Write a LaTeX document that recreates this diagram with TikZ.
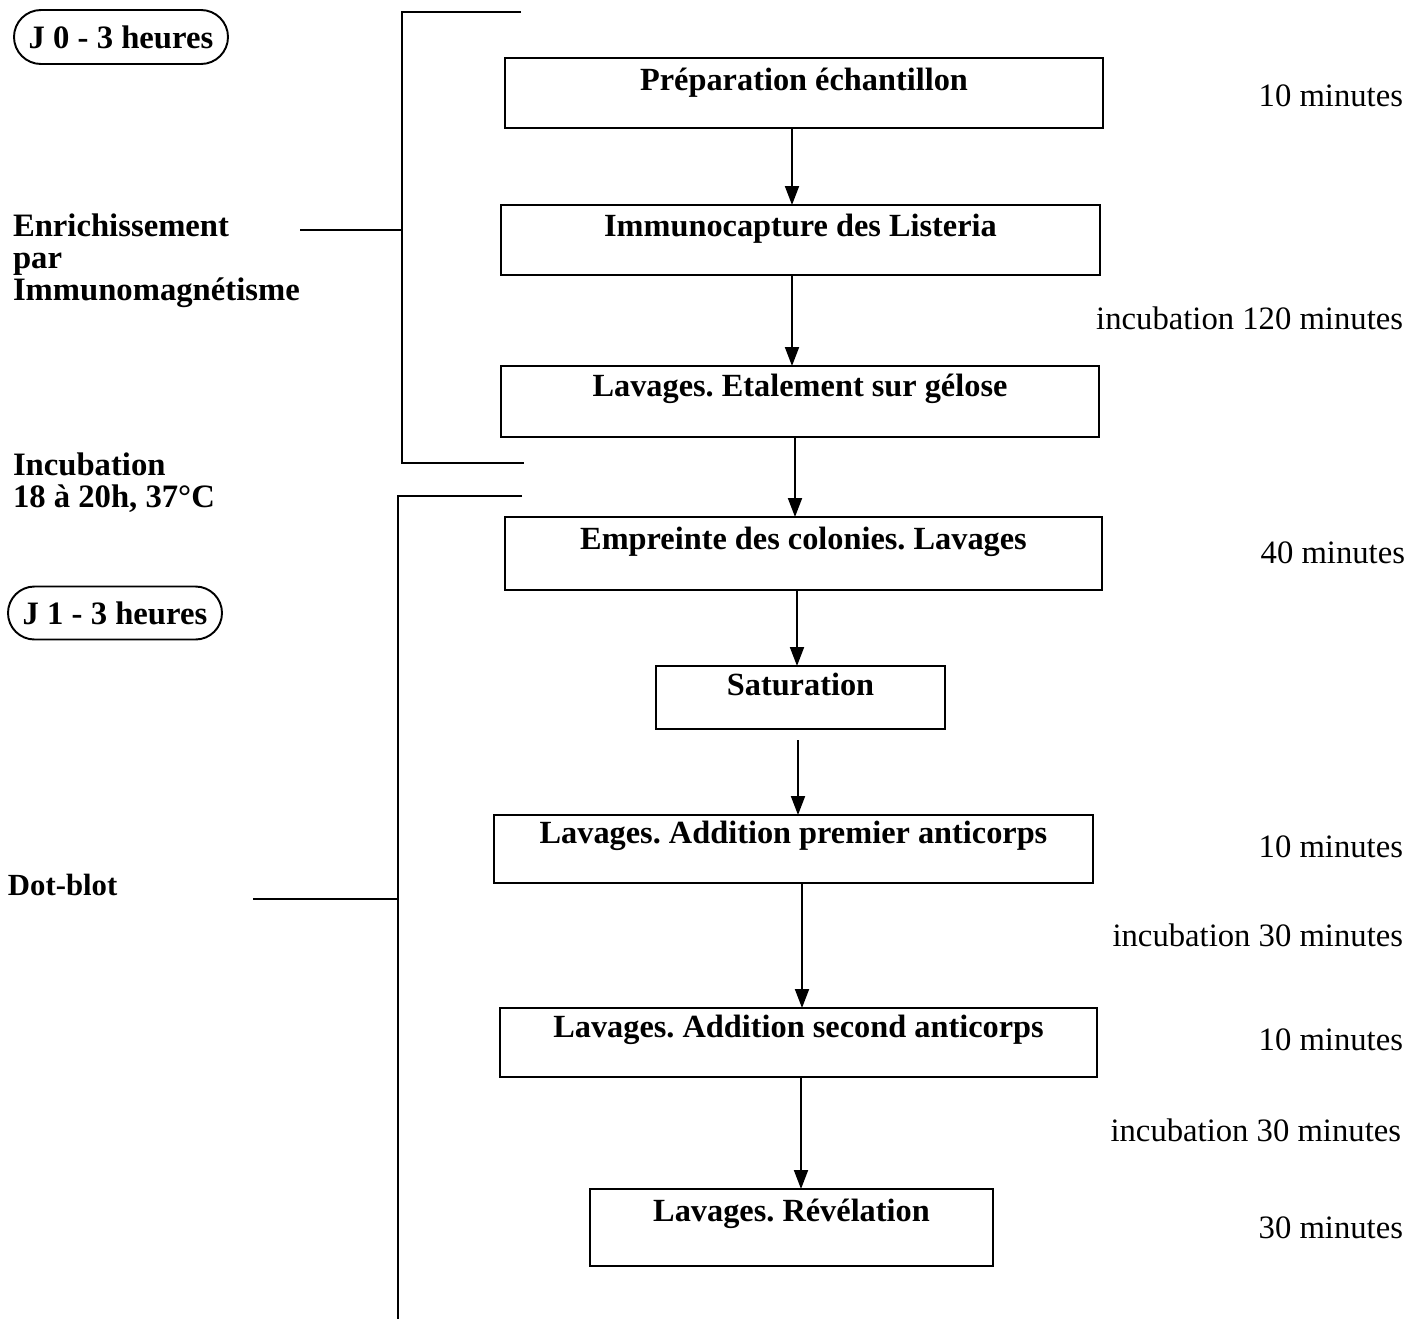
\documentclass[tikz,border=0pt]{standalone}
\usepackage{fontspec}
\setmainfont{Liberation Serif}
\usetikzlibrary{arrows.meta,shapes.misc}
\begin{document}
\frenchspacing
\begin{tikzpicture}[x=0.02cm,y=-0.02cm,
  every node/.style={inner sep=0pt, outer sep=0pt},
  ln/.style={line width=1.1pt},
  box/.style={draw, line width=1.1pt, rectangle},
  btxt/.style={font=\fontsize{18.4}{20}\selectfont\bfseries, anchor=base},
  ltxt/.style={font=\fontsize{18.6}{18.2}\selectfont\bfseries, anchor=base west, align=left},
  rtxt/.style={font=\fontsize{18.6}{20}\selectfont, anchor=base east},
  arr/.style={line width=1.1pt, -{Triangle[width=0.28cm,length=0.38cm]}},
  day/.style={draw, line width=1.1pt, rounded rectangle, font=\fontsize{18.6}{20}\selectfont\bfseries}
]
\useasboundingbox (0,0) rectangle (1423,1319);

% day labels
\node[day, minimum width=214*0.02cm, minimum height=54*0.02cm] (j0) at (121,37) {J 0 - 3 heures};
\node[day, minimum width=214*0.02cm, minimum height=53*0.02cm] (j1) at (115,613) {J 1 - 3 heures};

% left labels
\node[ltxt] (enr) at (13,300) {Enrichissement\\par\\Immunomagnétisme};
\node[ltxt] (inc) at (13,507) {Incubation\\18 à 20h, 37°C};
\node[ltxt, font=\fontsize{17.5}{18}\selectfont\bfseries] (dot) at (8,895) {Dot-blot};

% brackets
\coordinate (b1t) at (521,12);
\coordinate (b1tl) at (402,12);
\coordinate (b1bl) at (402,463);
\coordinate (b1b) at (524,463);
\coordinate (b1m) at (402,230);
\coordinate (enrt) at (300,230);
\draw[ln] (b1t) -- (b1tl) -- (b1bl) -- (b1b);
\draw[ln] (enrt) -- (b1m);

\coordinate (b2t) at (522,496);
\coordinate (b2tl) at (398,496);
\coordinate (b2bl) at (398,1319);
\coordinate (b2m) at (398,899);
\coordinate (dott) at (253,899);
\draw[ln] (b2t) -- (b2tl) -- (b2bl);
\draw[ln] (dott) -- (b2m);

% boxes
\newcommand{\mybox}[6]{%
  \node[box, minimum width=#3*0.02cm, minimum height=#4*0.02cm] (#1) at (#2) {};
  \node[btxt] (#1t) at ([yshift=-#5*0.02cm]#1.north) {#6};}
\mybox{s1}{804,93}{598}{70}{32}{Préparation échantillon}
\mybox{s2}{800.5,240}{599}{70}{31}{Immunocapture des Listeria}
\mybox{s3}{800,401.5}{598}{71}{30}{Lavages. Etalement sur gélose}
\mybox{s4}{803.5,553.5}{597}{73}{32}{Empreinte des colonies. Lavages}
\mybox{s5}{800.5,697.5}{289}{63}{29}{Saturation}
\mybox{s6}{793.5,849}{599}{68}{28}{Lavages. Addition premier anticorps}
\mybox{s7}{798.5,1042.5}{597}{69}{29}{Lavages. Addition second anticorps}
\mybox{s8}{791.5,1227.5}{403}{77}{32}{Lavages. Révélation}

% arrows
\draw[arr] (s1.south -| 792,0) -- (s2.north -| 792,0);
\draw[arr] (s2.south -| 792,0) -- (s3.north -| 792,0);
\draw[arr] (s3.south -| 795,0) -- (s4.north -| 795,0);
\draw[arr] (s4.south -| 797,0) -- (s5.north -| 797,0);
\draw[arr] ([yshift=-11*0.02cm]s5.south -| 798,0) -- (s6.north -| 798,0);
\draw[arr] (s6.south -| 802,0) -- (s7.north -| 802,0);
\draw[arr] (s7.south -| 801,0) -- (s8.north -| 801,0);

% right labels
\node[rtxt] (r1) at (1403,106) {10 minutes};
\node[rtxt] (r2) at (1403,329) {incubation 120 minutes};
\node[rtxt] (r3) at (1405,563) {40 minutes};
\node[rtxt] (r4) at (1403,857) {10 minutes};
\node[rtxt] (r5) at (1403,946) {incubation 30 minutes};
\node[rtxt] (r6) at (1403,1050) {10 minutes};
\node[rtxt] (r7) at (1401,1141) {incubation 30 minutes};
\node[rtxt] (r8) at (1403,1238) {30 minutes};
\end{tikzpicture}
\end{document}
